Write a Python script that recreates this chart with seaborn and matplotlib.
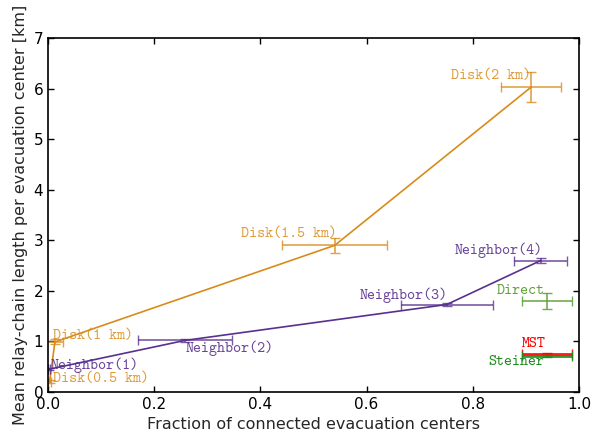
import matplotlib
matplotlib.use("Agg")
import matplotlib.pyplot as plt
import seaborn as sns
import pandas as pd

# Data
disk_labels = ["Disk(0.5 km)", "Disk(1 km)", "Disk(1.5 km)", "Disk(2 km)"]
disk_x = [0.003, 0.013, 0.540, 0.910]
disk_y = [0.20, 0.99, 2.90, 6.03]
disk_xerr = [0.003, 0.015, 0.099, 0.057]
disk_yerr = [0.03, 0.05, 0.15, 0.30]

nb_labels = ["Neighbor(1)", "Neighbor(2)", "Neighbor(3)", "Neighbor(4)"]
nb_x = [0.002, 0.258, 0.751, 0.928]
nb_y = [0.45, 1.02, 1.73, 2.60]
nb_xerr = [0.002, 0.088, 0.087, 0.050]
nb_yerr = [0.02, 0.03, 0.03, 0.05]

single_labels = ["Direct", "MST", "Steiner"]
single_x = [0.940, 0.940, 0.940]
single_y = [1.80, 0.75, 0.71]
single_xerr = [0.047, 0.047, 0.047]
single_yerr = [0.15, 0.02, 0.02]

# label text positions (left edge, vertical centre) in data coords
disk_text = [(0.009, 0.25), (0.009, 1.11), (0.363, 3.12), (0.759, 6.25)]
nb_text = [(0.004, 0.53), (0.260, 0.86), (0.586, 1.92), (0.765, 2.81)]
single_text = [(0.845, 2.0), (0.893, 0.95), (0.830, 0.60)]

c_disk = "#d98b1a"
c_nb = "#59308f"
single_colors = ["#62a23c", "#ff0000", "#1e8c1e"]

sns.set_style("ticks")
plt.rcParams["font.family"] = ["DejaVu Sans"]
plt.rcParams["xtick.direction"] = "in"
plt.rcParams["ytick.direction"] = "in"
plt.rcParams["xtick.top"] = True
plt.rcParams["ytick.right"] = True
plt.rcParams["xtick.major.size"] = 4
plt.rcParams["ytick.major.size"] = 4

fig = plt.figure(figsize=(5.95, 4.38), dpi=100)
ax = fig.add_axes([48 / 595, 1 - 392 / 438, 531 / 595, 354 / 438])

df_disk = pd.DataFrame({"x": disk_x, "y": disk_y})
df_nb = pd.DataFrame({"x": nb_x, "y": nb_y})
sns.lineplot(data=df_disk, x="x", y="y", sort=False, estimator=None, color=c_disk, lw=1.2, ax=ax)
sns.lineplot(data=df_nb, x="x", y="y", sort=False, estimator=None, color=c_nb, lw=1.2, ax=ax)

ax.errorbar(disk_x, disk_y, xerr=disk_xerr, yerr=disk_yerr, fmt="none", ecolor=c_disk,
            alpha=0.8, elinewidth=1.2, capsize=3.5)
ax.errorbar(nb_x, nb_y, xerr=nb_xerr, yerr=nb_yerr, fmt="none", ecolor=c_nb,
            alpha=0.8, elinewidth=1.2, capsize=3.5)
for i in range(len(single_labels)):
    lw = 1.2 if i == 0 else 2.0
    ax.errorbar([single_x[i]], [single_y[i]], xerr=[single_xerr[i]], yerr=[single_yerr[i]],
                fmt="none", ecolor=single_colors[i], alpha=0.9, elinewidth=lw, capsize=3.5)

tt = dict(fontfamily="cmtt10", fontsize=11, ha="left", va="center")
for lab, (tx, ty) in zip(disk_labels, disk_text):
    ax.text(tx, ty, lab, color=c_disk, alpha=0.85, **tt)
for lab, (tx, ty) in zip(nb_labels, nb_text):
    ax.text(tx, ty, lab, color=c_nb, alpha=0.9, **tt)
for lab, (tx, ty), c in zip(single_labels, single_text, single_colors):
    ax.text(tx, ty, lab, color=c, **tt)

ax.set_xlim(0, 1)
ax.set_ylim(0, 7)
ax.set_xticks([0.0, 0.2, 0.4, 0.6, 0.8, 1.0])
ax.set_yticks(range(0, 8))
ax.tick_params(labelsize=11, width=1, colors="black")
for s in ax.spines.values():
    s.set_visible(True)
    s.set_color("black")
    s.set_linewidth(1.2)
ax.set_xlabel("Fraction of connected evacuation centers", fontsize=11.5)
ax.set_ylabel("Mean relay-chain length per evacuation center [km]", fontsize=11.5)

fig.savefig("out.png", dpi=100)
